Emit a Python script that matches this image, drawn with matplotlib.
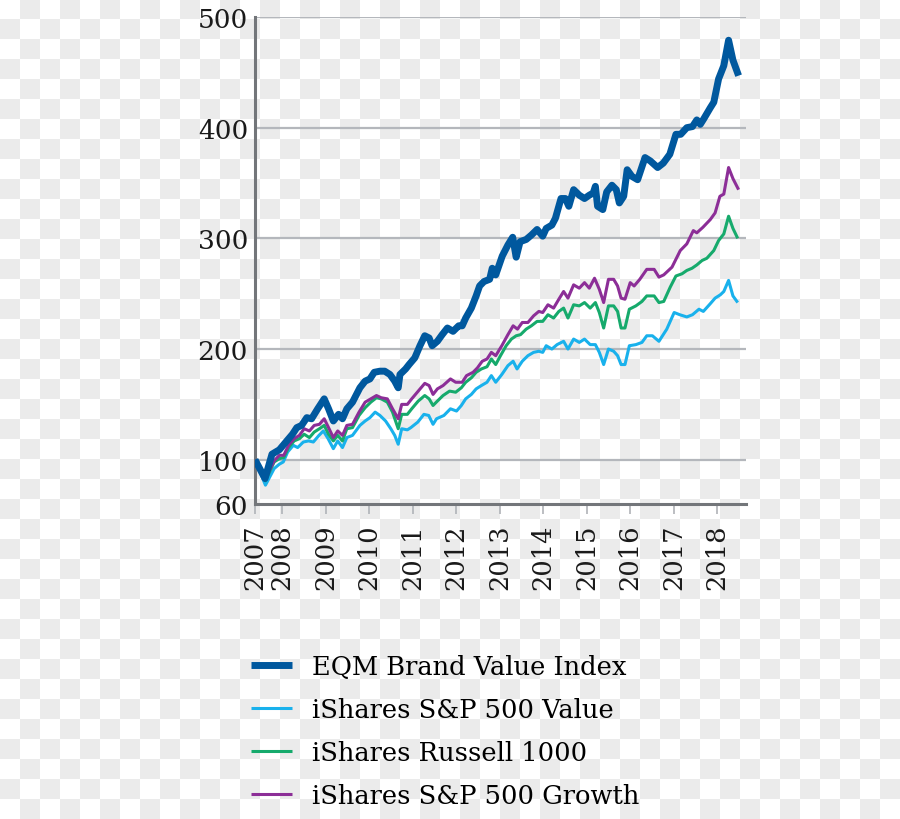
import numpy as np
import matplotlib
matplotlib.use('Agg')
import matplotlib.pyplot as plt

# ---- data (decimal years, index level) -------------------------------------
eqm_t = [2007.38, 2007.61, 2007.77, 2007.94, 2008.11, 2008.24, 2008.34, 2008.45, 2008.57, 2008.68,
         2008.82, 2008.97, 2009.07, 2009.18, 2009.30, 2009.39, 2009.49, 2009.62, 2009.79, 2009.91,
         2010.02, 2010.12, 2010.25, 2010.36, 2010.48, 2010.59, 2010.67, 2010.71, 2010.84, 2010.92,
         2011.05, 2011.17, 2011.28, 2011.38, 2011.45, 2011.57, 2011.68, 2011.80, 2011.93, 2012.06,
         2012.14, 2012.22, 2012.35, 2012.46, 2012.54, 2012.64, 2012.77, 2012.83, 2012.91, 2013.06,
         2013.19, 2013.30, 2013.38, 2013.47, 2013.61, 2013.73, 2013.86, 2013.99, 2014.07, 2014.20,
         2014.28, 2014.41, 2014.51, 2014.59, 2014.70, 2014.83, 2014.95, 2015.06, 2015.15, 2015.20,
         2015.25, 2015.37, 2015.46, 2015.58, 2015.68, 2015.75, 2015.85, 2015.93, 2016.04, 2016.17,
         2016.34, 2016.46, 2016.63, 2016.76, 2016.91, 2017.05, 2017.16, 2017.30, 2017.43, 2017.53,
         2017.61, 2017.69, 2017.84, 2017.92, 2018.03, 2018.15, 2018.26, 2018.36, 2018.49]
eqm_v = [100, 83, 105, 109, 117, 123, 129, 131, 138, 137,
         146, 155, 146, 135, 141, 137, 146, 152, 165, 171,
         173, 179, 180, 180, 177, 171, 165, 177, 182, 186,
         192, 203, 212, 210, 203, 207, 213, 219, 216, 221,
         221, 228, 237, 248, 257, 261, 263, 273, 267, 284,
         294, 301, 283, 297, 299, 303, 308, 302, 309, 312,
         318, 336, 336, 329, 344, 339, 336, 339, 341, 347,
         329, 326, 342, 348, 344, 332, 338, 362, 356, 353,
         373, 370, 364, 368, 376, 394, 394, 400, 401, 407,
         403, 408, 418, 423, 444, 456, 479, 461, 447]

value_t = [2007.38, 2007.62, 2007.82, 2007.94, 2008.03, 2008.13, 2008.26, 2008.36, 2008.49, 2008.61,
           2008.72, 2008.85, 2008.95, 2009.06, 2009.18, 2009.28, 2009.39, 2009.49, 2009.62, 2009.79,
           2009.91, 2010.02, 2010.14, 2010.25, 2010.38, 2010.50, 2010.59, 2010.67, 2010.75, 2010.88,
           2010.96, 2011.12, 2011.26, 2011.37, 2011.47, 2011.55, 2011.72, 2011.87, 2012.01, 2012.12,
           2012.22, 2012.35, 2012.46, 2012.58, 2012.71, 2012.81, 2012.91, 2013.05, 2013.19, 2013.31,
           2013.40, 2013.52, 2013.65, 2013.78, 2013.90, 2013.99, 2014.07, 2014.20, 2014.32, 2014.47,
           2014.57, 2014.70, 2014.83, 2014.95, 2015.08, 2015.20, 2015.29, 2015.39, 2015.50, 2015.62,
           2015.71, 2015.79, 2015.88, 2015.98, 2016.13, 2016.27, 2016.38, 2016.51, 2016.66, 2016.84,
           2017.01, 2017.14, 2017.30, 2017.43, 2017.58, 2017.68, 2017.84, 2017.95, 2018.07, 2018.15,
           2018.26, 2018.36, 2018.47]
value_v = [100, 77, 92, 96, 98, 107, 113, 111, 116, 117,
           116, 122, 126, 119, 110, 117, 111, 120, 122, 131,
           135, 138, 143, 140, 135, 128, 122, 114, 128, 127,
           129, 134, 141, 140, 132, 137, 140, 146, 144, 149,
           155, 159, 164, 167, 170, 176, 170, 177, 185, 189,
           182, 189, 194, 197, 198, 197, 203, 200, 204, 207,
           200, 209, 206, 209, 204, 204, 197, 186, 200, 198,
           194, 186, 186, 203, 204, 206, 212, 212, 207, 218,
           233, 231, 229, 231, 236, 234, 241, 246, 249, 252,
           262, 248, 242]

russell_t = [2007.38, 2007.62, 2007.82, 2007.94, 2008.04, 2008.15, 2008.28, 2008.40, 2008.51, 2008.63,
             2008.74, 2008.86, 2008.97, 2009.07, 2009.18, 2009.28, 2009.39, 2009.49, 2009.62, 2009.77,
             2009.91, 2010.04, 2010.17, 2010.28, 2010.42, 2010.54, 2010.67, 2010.75, 2010.88, 2010.98,
             2011.13, 2011.28, 2011.38, 2011.47, 2011.57, 2011.70, 2011.85, 2011.99, 2012.12, 2012.22,
             2012.35, 2012.46, 2012.58, 2012.71, 2012.81, 2012.91, 2013.02, 2013.15, 2013.27, 2013.38,
             2013.48, 2013.61, 2013.73, 2013.86, 2013.99, 2014.11, 2014.24, 2014.36, 2014.47, 2014.57,
             2014.70, 2014.83, 2014.95, 2015.08, 2015.20, 2015.29, 2015.39, 2015.50, 2015.62, 2015.71,
             2015.79, 2015.88, 2015.98, 2016.13, 2016.27, 2016.38, 2016.55, 2016.66, 2016.77, 2016.92,
             2017.05, 2017.19, 2017.30, 2017.42, 2017.53, 2017.65, 2017.76, 2017.92, 2018.03, 2018.15,
             2018.26, 2018.36, 2018.47]
russell_v = [100, 81, 98, 101, 102, 111, 117, 119, 123, 120,
             125, 128, 131, 123, 117, 122, 117, 128, 129, 140,
             147, 152, 156, 155, 152, 143, 128, 141, 141, 146,
             153, 158, 155, 149, 153, 158, 162, 161, 165, 170,
             174, 179, 182, 184, 191, 186, 194, 203, 209, 212,
             213, 218, 221, 225, 225, 231, 228, 234, 237, 228,
             240, 239, 242, 237, 242, 233, 219, 239, 239, 234,
             219, 219, 236, 239, 243, 248, 248, 242, 243, 256,
             266, 268, 271, 273, 276, 280, 282, 289, 298, 304,
             320, 309, 300]

growth_t = [2007.38, 2007.62, 2007.82, 2007.94, 2008.04, 2008.15, 2008.28, 2008.40, 2008.51, 2008.63,
            2008.74, 2008.86, 2008.97, 2009.07, 2009.18, 2009.28, 2009.39, 2009.49, 2009.62, 2009.77,
            2009.91, 2010.04, 2010.17, 2010.28, 2010.42, 2010.54, 2010.67, 2010.75, 2010.88, 2010.98,
            2011.13, 2011.28, 2011.38, 2011.47, 2011.57, 2011.70, 2011.87, 2011.99, 2012.14, 2012.24,
            2012.39, 2012.49, 2012.60, 2012.71, 2012.81, 2012.91, 2013.05, 2013.19, 2013.31, 2013.41,
            2013.52, 2013.65, 2013.78, 2013.90, 2013.99, 2014.11, 2014.24, 2014.36, 2014.47, 2014.57,
            2014.70, 2014.83, 2014.95, 2015.06, 2015.18, 2015.29, 2015.39, 2015.50, 2015.62, 2015.71,
            2015.79, 2015.88, 2016.00, 2016.09, 2016.22, 2016.38, 2016.55, 2016.66, 2016.77, 2016.96,
            2017.15, 2017.30, 2017.45, 2017.53, 2017.67, 2017.84, 2017.95, 2018.06, 2018.15, 2018.26,
            2018.36, 2018.49]
growth_v = [100, 83, 99, 104, 104, 113, 119, 122, 128, 126,
            131, 132, 137, 129, 120, 126, 122, 131, 132, 143,
            152, 155, 158, 156, 155, 146, 137, 150, 150, 155,
            162, 169, 167, 159, 164, 167, 173, 170, 170, 176,
            179, 183, 189, 191, 197, 194, 203, 213, 221, 218,
            224, 224, 230, 234, 233, 240, 237, 245, 252, 246,
            258, 255, 260, 255, 264, 254, 242, 263, 263, 257,
            246, 245, 260, 257, 263, 272, 272, 265, 267, 274,
            289, 295, 307, 305, 310, 317, 323, 338, 340, 364,
            354, 344]

labels = ["EQM Brand Value Index", "iShares S&P 500 Value",
          "iShares Russell 1000", "iShares S&P 500 Growth"]
colors = ['#00589e', '#19b1ec', '#16aa6c', '#8c2e97']
year_ticks = [2007.38] + list(range(2008, 2019))
year_labels = [str(y) for y in range(2007, 2019)]
y_ticks = [60, 100, 200, 300, 400, 500]

plt.rcParams['font.family'] = 'DejaVu Serif'

W, H = 900, 820
fig = plt.figure(figsize=(W / 100, H / 100), dpi=100)

# transparency checkerboard behind everything
jj, ii = np.mgrid[0:H, 0:W]
checker = ((ii // 20 + jj // 20) % 2).astype(float)
bg = np.where(checker[..., None] > 0, np.array([0.925, 0.925, 0.925]), np.array([1.0, 1.0, 1.0]))
fig.figimage(bg, xo=0, yo=0, origin='upper', zorder=-10)
fig.patch.set_alpha(0)

ax = fig.add_axes([255 / W, 1 - 505 / H, 491 / W, 487 / H])
ax.set_facecolor('none')

series = [(eqm_t, eqm_v, 5.0), (value_t, value_v, 2.2),
          (russell_t, russell_v, 2.2), (growth_t, growth_v, 2.2)]
order = [1, 2, 3, 0]  # EQM drawn on top
handles = [None] * 4
for k in order:
    t, v, lw = series[k]
    handles[k], = ax.plot(t, v, color=colors[k], lw=lw, solid_joinstyle='round',
                          solid_capstyle='butt', label=labels[k], zorder=3 + (k == 0))

ax.set_xlim(2007.38, 2018.66)
ax.set_ylim(60, 500)
ax.set_yticks(y_ticks)
ax.set_yticklabels([str(v) for v in y_ticks])
ax.set_xticks(year_ticks)
ax.set_xticklabels(year_labels, rotation=90)
for yv in y_ticks[1:]:
    ax.axhline(yv, color='#b4b7bc', lw=1.6, zorder=1)

for s in ['top', 'right']:
    ax.spines[s].set_visible(False)
for s in ['left', 'bottom']:
    ax.spines[s].set_color('#73767a')
    ax.spines[s].set_linewidth(2.2)
ax.tick_params(axis='y', length=0, pad=5, labelsize=19, labelcolor='#1a1a1a')
ax.tick_params(axis='x', length=7, width=1.2, color='#b0b3b8', pad=7,
               labelsize=18.5, labelcolor='#1a1a1a')

fig.legend(handles, labels, loc='upper left', bbox_to_anchor=(251 / W, 1 - 655 / H),
           frameon=False, fontsize=18.5, handlelength=1.6, handletextpad=0.78,
           labelspacing=0.7, borderaxespad=0, borderpad=0)

fig.savefig('out.png', dpi=100)
